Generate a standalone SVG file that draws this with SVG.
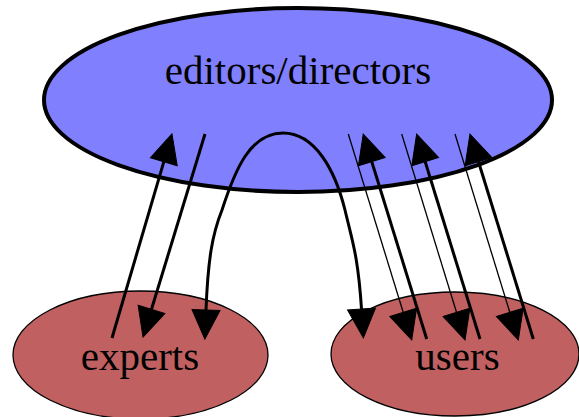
<svg xmlns="http://www.w3.org/2000/svg" width="579" height="417" viewBox="0 0 579 417">
<style>
.lbl{font-family:"Liberation Serif","Times New Roman",serif;font-size:41px;fill:#000;text-anchor:middle}
.e{fill:none;stroke:#000}
.thick{stroke-width:3}
.thin{stroke-width:1.3}
</style>
<defs>
<marker id="ah" markerUnits="userSpaceOnUse" markerWidth="32" markerHeight="32" refX="0" refY="0" viewBox="-1 -15 32 30" orient="auto" overflow="visible">
<path d="M0,-14 L29,0 L0,14 Z" fill="#000" stroke="#000" stroke-width="1"/>
</marker>
<marker id="ahs" markerUnits="userSpaceOnUse" markerWidth="32" markerHeight="32" refX="0" refY="0" viewBox="-1 -15 32 30" orient="auto-start-reverse" overflow="visible">
<path d="M0,-14 L29,0 L0,14 Z" fill="#000" stroke="#000" stroke-width="1"/>
</marker>
</defs>
<rect width="579" height="417" fill="#fff"/>
<g id="editors">
<ellipse cx="298" cy="100" rx="254" ry="92" fill="#8080ff" stroke="#000" stroke-width="4"/>
<text class="lbl" x="298" y="84">editors/directors</text>
</g>
<g id="experts">
<ellipse cx="140.5" cy="355" rx="127.5" ry="64" fill="#c06060" stroke="#000" stroke-width="1.3"/>
<text class="lbl" x="140" y="370">experts</text>
</g>
<g id="users">
<ellipse cx="455" cy="354" rx="124" ry="62" fill="#c06060" stroke="#000" stroke-width="1.3"/>
<text class="lbl" x="457.5" y="370">users</text>
</g>
<g id="connectors">
<line class="e thick" x1="112" y1="338" x2="163.8" y2="161.8" marker-end="url(#ah)"/>
<line class="e thick" x1="205" y1="134" x2="151.5" y2="309.3" marker-end="url(#ah)"/>
<path class="e thick" d="M206,310 C208,260 212,235 222,210 C235,170 250,133 283,133 C315,133 335,170 345,210 C352,240 358,255 361.5,309" marker-start="url(#ahs)" marker-end="url(#ah)"/>
<line class="e thin" x1="348.3" y1="134" x2="403.2" y2="312.3" marker-end="url(#ah)"/>
<line class="e thin" x1="401.7" y1="134" x2="456.5" y2="312.3" marker-end="url(#ah)"/>
<line class="e thin" x1="455" y1="134" x2="509.8" y2="312.3" marker-end="url(#ah)"/>
<line class="e thick" x1="426.7" y1="339" x2="371.8" y2="161.7" marker-end="url(#ah)"/>
<line class="e thick" x1="480" y1="339" x2="425.2" y2="161.7" marker-end="url(#ah)"/>
<line class="e thick" x1="533.3" y1="339" x2="478.5" y2="161.7" marker-end="url(#ah)"/>
</g>
</svg>
